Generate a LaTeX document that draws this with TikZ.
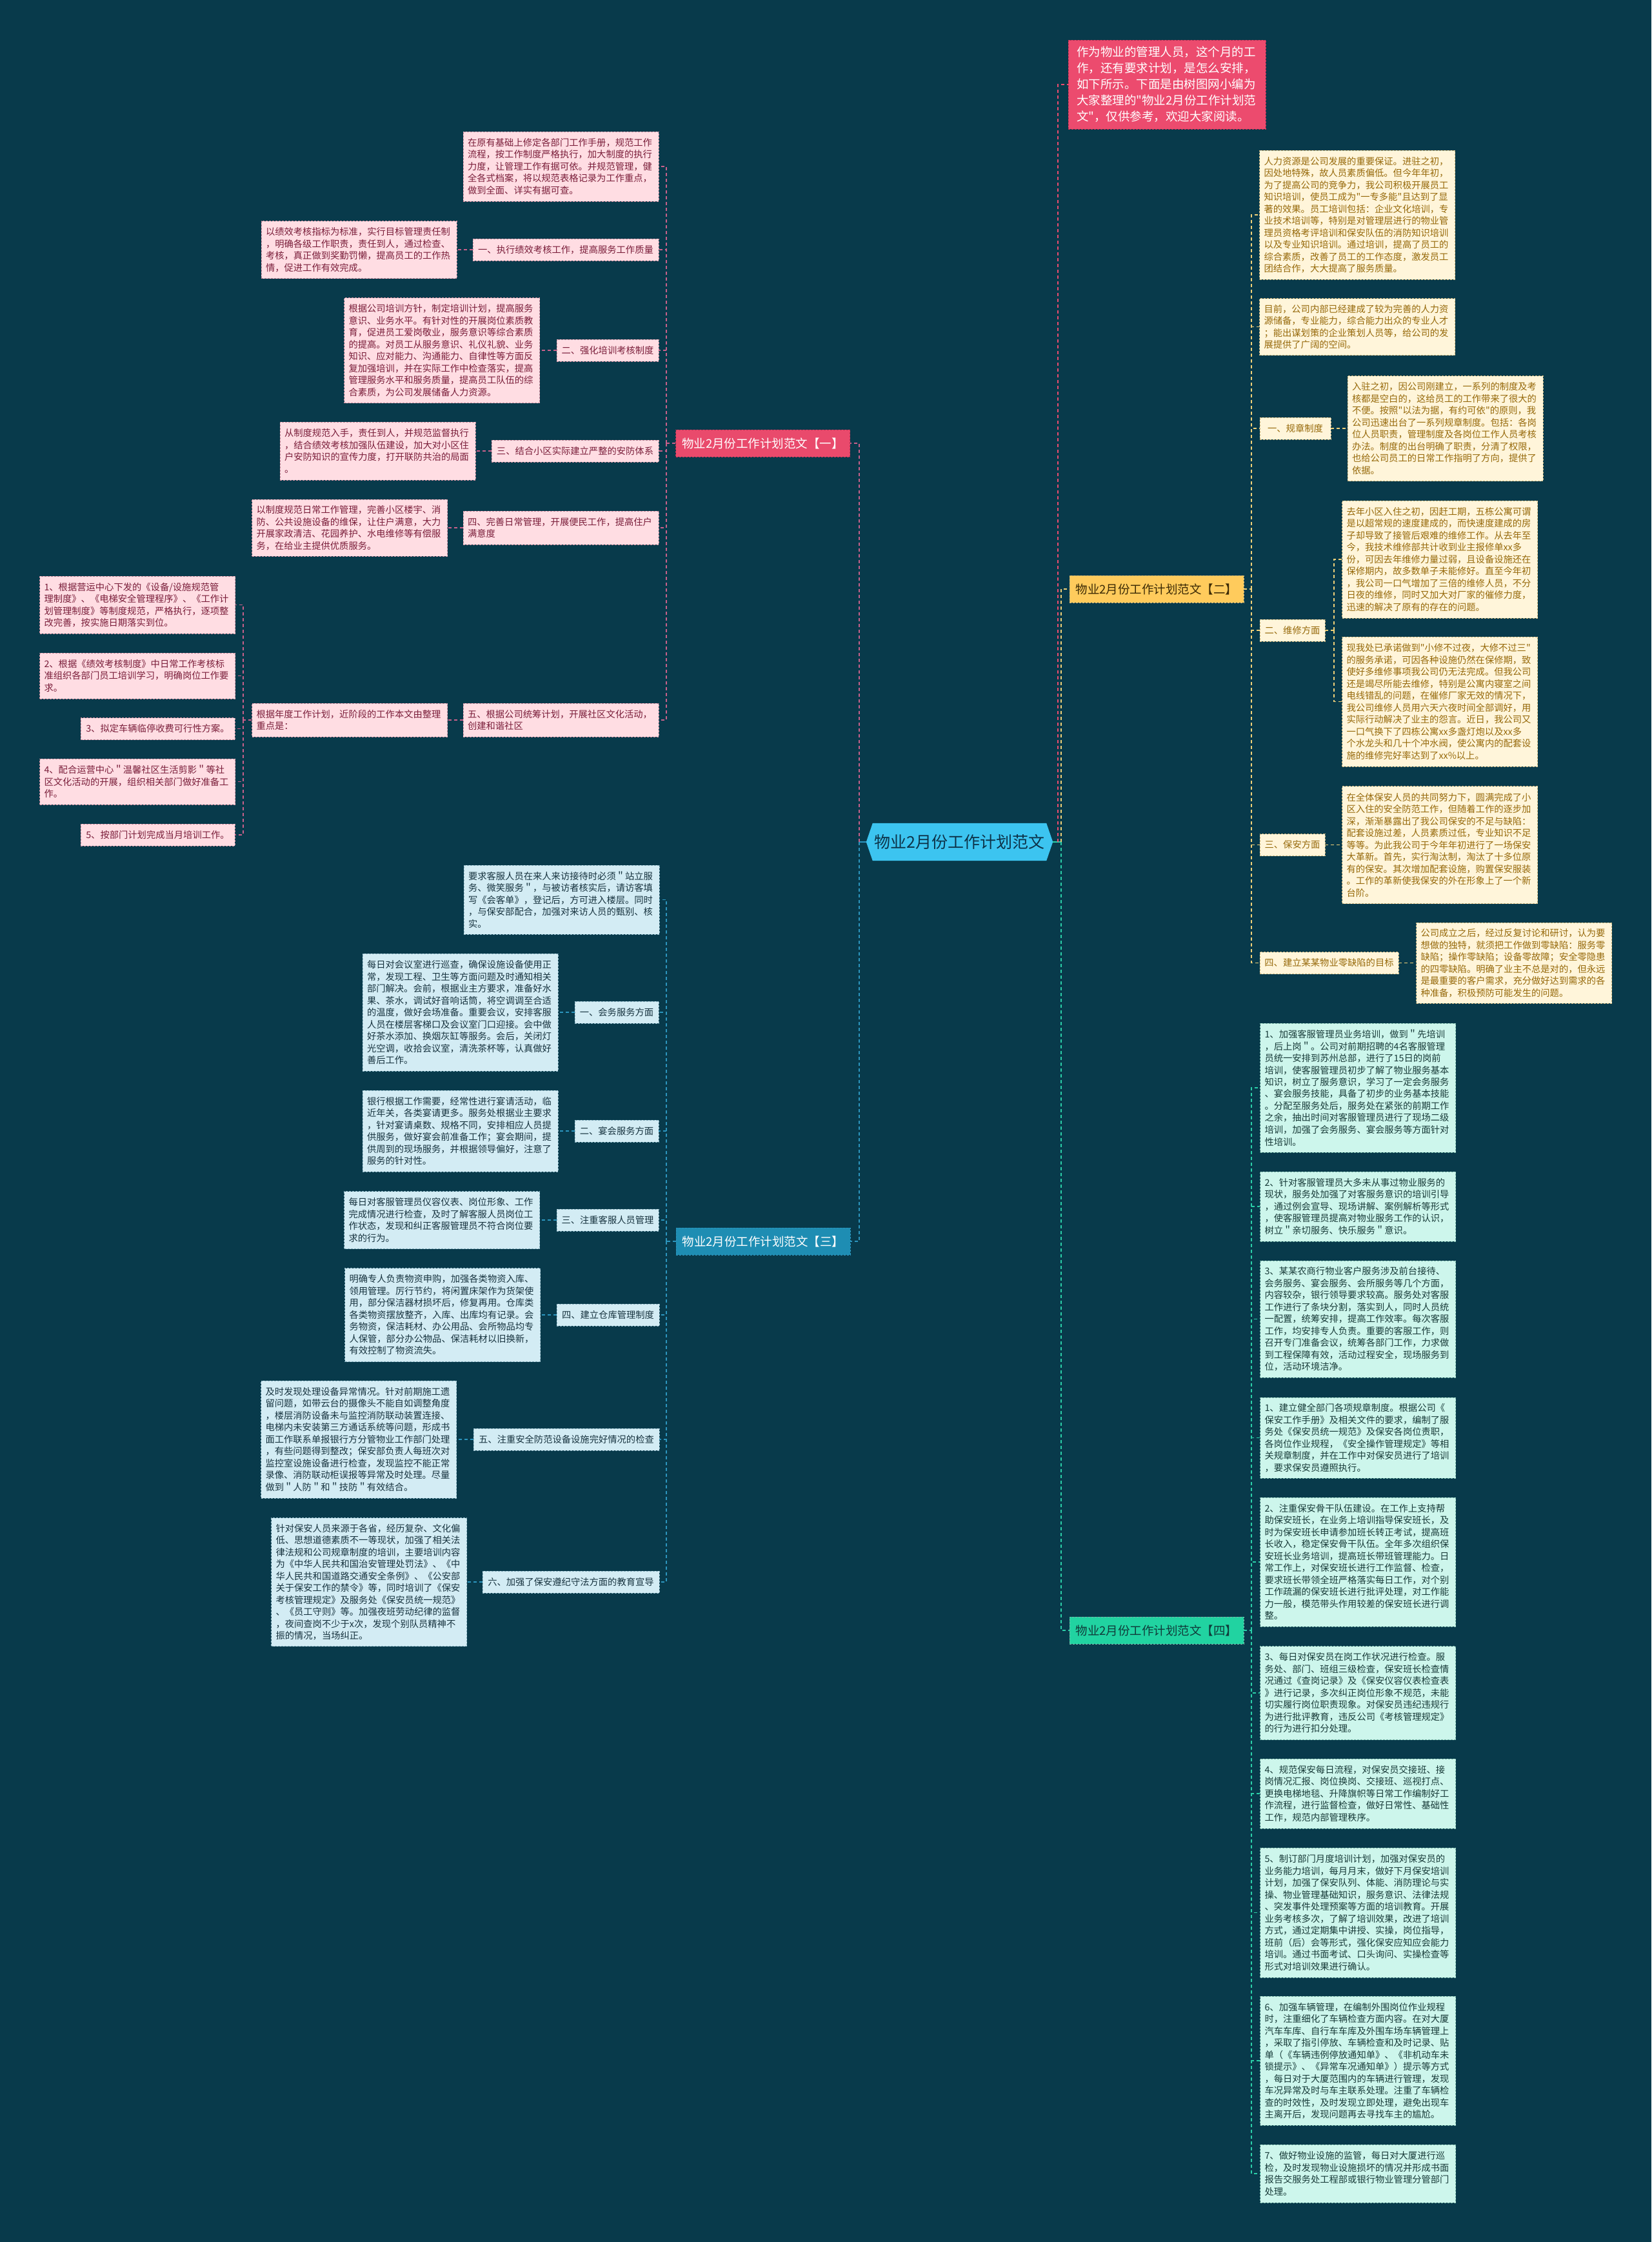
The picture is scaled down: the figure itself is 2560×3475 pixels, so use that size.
\documentclass[tikz,border=0pt]{standalone}
\usepackage{fontspec}
\newfontfamily\cjk{Noto Sans CJK SC}
\usepackage{xcolor}
\usepackage{tikz}
\usetikzlibrary{backgrounds}
\definecolor{mapbg}{HTML}{083A4B}
\definecolor{hubfill}{HTML}{3CC4F0}
\definecolor{hubtext}{HTML}{0D3349}
\definecolor{introfill}{HTML}{EC4B6E}
\definecolor{introedge}{HTML}{B83254}
\definecolor{roselabel}{HTML}{E94A6C}
\definecolor{roseleaf}{HTML}{FFDDE3}
\definecolor{rosetext}{HTML}{7A1E3A}
\definecolor{roseedge}{HTML}{C98A9C}
\definecolor{roseline}{HTML}{C8608A}
\definecolor{amberlabel}{HTML}{FFCB5C}
\definecolor{ambertitle}{HTML}{3B2A05}
\definecolor{amberleaf}{HTML}{FFF5DA}
\definecolor{ambertext}{HTML}{96690A}
\definecolor{amberedge}{HTML}{C9B27A}
\definecolor{amberline}{HTML}{EFD078}
\definecolor{bluelabel}{HTML}{1E8DB3}
\definecolor{blueleaf}{HTML}{D3ECF4}
\definecolor{bluetext}{HTML}{17333F}
\definecolor{blueedge}{HTML}{8DB5C4}
\definecolor{blueline}{HTML}{2C95BE}
\definecolor{mintlabel}{HTML}{21D3A1}
\definecolor{minttitle}{HTML}{103B3A}
\definecolor{mintleaf}{HTML}{CDF6EC}
\definecolor{minttext}{HTML}{183B39}
\definecolor{mintedge}{HTML}{7CB9AA}
\definecolor{mintline}{HTML}{2BCFA8}
\newcommand\leaffont{\cjk\fontsize{14.3pt}{18.5pt}\selectfont}
\newcommand\trunkfont{\cjk\fontsize{18.5pt}{22pt}\selectfont}
\newcommand\hubfont{\cjk\fontsize{25pt}{30pt}\selectfont}
\newcommand\introfont{\cjk\fontsize{18.5pt}{25pt}\selectfont}
\tikzset{
  leafbox/.style={rectangle, inner xsep=7pt, inner ysep=0pt, text width=289pt, align=left, font=\leaffont, line width=0.8pt, dash pattern=on 3pt off 2pt},
  tagbox/.style={rectangle, inner xsep=7pt, inner ysep=0pt, align=center, font=\leaffont, minimum height=34pt, line width=0.8pt, dash pattern=on 3pt off 2pt},
  trunkbox/.style={rectangle, inner sep=0pt, minimum width=270pt, minimum height=42pt, font=\trunkfont, line width=0.8pt, dash pattern=on 3pt off 2pt},
  hubbox/.style={rectangle, inner sep=0pt, font=\hubfont, text=hubtext},
  introbox/.style={rectangle, fill=introfill, draw=introedge, text=white, font=\introfont, inner xsep=13pt, inner ysep=0pt, text width=280pt, align=left, line width=0.8pt, dash pattern=on 3pt off 2pt},
  rosebox/.style={fill=roseleaf, draw=roseedge, text=rosetext},
  amberbox/.style={fill=amberleaf, draw=amberedge, text=ambertext},
  bluebox/.style={fill=blueleaf, draw=blueedge, text=bluetext},
  mintbox/.style={fill=mintleaf, draw=mintedge, text=minttext},
  linkline/.style={line width=1.5pt, dash pattern=on 5pt off 4pt},
}
\begin{document}
\begin{tikzpicture}[x=1pt, y=-1pt]
\useasboundingbox (0,0) rectangle (2560,3475);

\node[hubbox, minimum width=289pt, minimum height=58pt] (hub) at (1487.5,1305) {物业2月份工作计划范文};

\node[introbox, minimum height=138pt] (intro) at (1809,131) {作为物业的管理人员，这个月的工\\作，还有要求计划，是怎么安排，\\如下所示。下面是由树图网小编为\\大家整理的"物业2月份工作计划范\\文"，仅供参考，欢迎大家阅读。};

\node[trunkbox, fill=roselabel, draw=introedge, text=white] (b1) at (1182.5,687) {物业2月份工作计划范文【一】};
\node[trunkbox, fill=amberlabel, draw=amberedge, text=ambertitle] (b2) at (1793,913) {物业2月份工作计划范文【二】};
\node[trunkbox, fill=bluelabel, draw=blueline, text=white] (b3) at (1183,1924) {物业2月份工作计划范文【三】};
\node[trunkbox, fill=mintlabel, draw=mintedge, text=minttitle] (b4) at (1793,2527) {物业2月份工作计划范文【四】};

\node[leafbox, rosebox, minimum height=108pt] (b1t0) at (869.5,258) {在原有基础上修定各部门工作手册，规范工作\\流程，按工作制度严格执行，加大制度的执行\\力度，让管理工作有据可依。并规范管理，健\\全各式档案，将以规范表格记录为工作重点，\\做到全面、详实有据可查。};
\node[tagbox, rosebox, minimum width=288pt] (b1l1) at (877,387) {一、执行绩效考核工作，提高服务工作质量};
\node[leafbox, rosebox, minimum height=89pt] (b1t1) at (556.5,387) {以绩效考核指标为标准，实行目标管理责任制\\，明确各级工作职责，责任到人，通过检查、\\考核，真正做到奖勤罚懒，提高员工的工作热\\情，促进工作有效完成。};
\node[tagbox, rosebox, minimum width=158pt] (b1l2) at (942,543) {二、强化培训考核制度};
\node[leafbox, rosebox, minimum height=163pt] (b1t2) at (685,543) {根据公司培训方针，制定培训计划，提高服务\\意识、业务水平。有针对性的开展岗位素质教\\育，促进员工爱岗敬业，服务意识等综合素质\\的提高。对员工从服务意识、礼仪礼貌、业务\\知识、应对能力、沟通能力、自律性等方面反\\复加强培训，并在实际工作中检查落实，提高\\管理服务水平和服务质量，提高员工队伍的综\\合素质，为公司发展储备人力资源。};
\node[tagbox, rosebox, minimum width=259pt] (b1l3) at (891.5,699) {三、结合小区实际建立严整的安防体系};
\node[leafbox, rosebox, minimum height=90pt] (b1t3) at (585.5,699) {从制度规范入手，责任到人，并规范监督执行\\，结合绩效考核加强队伍建设，加大对小区住\\户安防知识的宣传力度，打开联防共治的局面\\。};
\node[leafbox, rosebox, minimum height=52pt] (b1l4) at (869.5,818) {四、完善日常管理，开展便民工作，提高住户\\满意度};
\node[leafbox, rosebox, minimum height=88pt] (b1t4) at (542,818) {以制度规范日常工作管理，完善小区楼宇、消\\防、公共设施设备的维保，让住户满意，大力\\开展家政清洁、花园养护、水电维修等有偿服\\务，在给业主提供优质服务。};
\node[leafbox, rosebox, minimum height=52pt] (b1l5) at (869.5,1116) {五、根据公司统筹计划，开展社区文化活动，\\创建和谐社区};
\node[leafbox, rosebox, minimum height=52pt] (b1t5) at (542,1116) {根据年度工作计划，近阶段的工作本文由整理\\重点是：};
\node[leafbox, rosebox, minimum height=89pt] (b1i1) at (213,937.5) {1、根据营运中心下发的《设备/设施规范管\\理制度》、《电梯安全管理程序》、《工作计\\划管理制度》等制度规范，严格执行，逐项整\\改完善，按实施日期落实到位。};
\node[leafbox, rosebox, minimum height=71pt] (b1i2) at (213,1047.5) {2、根据《绩效考核制度》中日常工作考核标\\准组织各部门员工培训学习，明确岗位工作要\\求。};
\node[tagbox, rosebox, minimum width=239pt] (b1i3) at (244.5,1129.5) {3、拟定车辆临停收费可行性方案。};
\node[leafbox, rosebox, minimum height=71pt] (b1i4) at (213,1211.5) {4、配合运营中心＂温馨社区生活剪影＂等社\\区文化活动的开展，组织相关部门做好准备工\\作。};
\node[tagbox, rosebox, minimum width=239pt] (b1i5) at (244.5,1294) {5、按部门计划完成当月培训工作。};

\node[leafbox, amberbox, minimum height=200pt] (b2t1) at (2104,333) {人力资源是公司发展的重要保证。进驻之初，\\因处地特殊，故人员素质偏低。但今年年初，\\为了提高公司的竞争力，我公司积极开展员工\\知识培训，使员工成为"一专多能"且达到了显\\著的效果。员工培训包括：企业文化培训，专\\业技术培训等，特别是对管理层进行的物业管\\理员资格考评培训和保安队伍的消防知识培训\\以及专业知识培训。通过培训，提高了员工的\\综合素质，改善了员工的工作态度，激发员工\\团结合作，大大提高了服务质量。};
\node[leafbox, amberbox, minimum height=88pt] (b2t2) at (2104,506.5) {目前，公司内部已经建成了较为完善的人力资\\源储备，专业能力，综合能力出众的专业人才\\；能出谋划策的企业策划人员等，给公司的发\\展提供了广阔的空间。};
\node[tagbox, amberbox, minimum width=110pt] (b2l1) at (2008,664) {一、规章制度};
\node[leafbox, amberbox, minimum height=163pt] (b2t3) at (2240.5,664) {入驻之初，因公司刚建立，一系列的制度及考\\核都是空白的，这给员工的工作带来了很大的\\不便。按照"以法为据，有约可依"的原则，我\\公司迅速出台了一系列规章制度。包括：各岗\\位人员职责，管理制度及各岗位工作人员考核\\办法。制度的出台明确了职责，分清了权限，\\也给公司员工的日常工作指明了方向，提供了\\依据。};
\node[tagbox, amberbox, minimum width=101pt] (b2l2) at (2003.5,977) {二、维修方面};
\node[leafbox, amberbox, minimum height=182pt] (b2t4) at (2232,867) {去年小区入住之初，因赶工期，五栋公寓可谓\\是以超常规的速度建成的，而快速度建成的房\\子却导致了接管后艰难的维修工作。从去年至\\今，我技术维修部共计收到业主报修单xx多\\份，可因去年维修力量过弱，且设备设施还在\\保修期内，故多数单子未能修好。直至今年初\\，我公司一口气增加了三倍的维修人员，不分\\日夜的维修，同时又加大对厂家的催修力度，\\迅速的解决了原有的存在的问题。};
\node[leafbox, amberbox, minimum height=201pt] (b2t5) at (2232,1087.5) {现我处已承诺做到"小修不过夜，大修不过三"\\的服务承诺，可因各种设施仍然在保修期，致\\使好多维修事项我公司仍无法完成。但我公司\\还是竭尽所能去维修，特别是公寓内寝室之间\\电线错乱的问题，在催修厂家无效的情况下，\\我公司维修人员用六天六夜时间全部调好，用\\实际行动解决了业主的怨言。近日，我公司又\\一口气换下了四栋公寓xx多盏灯炮以及xx多\\个水龙头和几十个冲水阀，使公寓内的配套设\\施的维修完好率达到了xx\%以上。};
\node[tagbox, amberbox, minimum width=101pt] (b2l3) at (2003.5,1309.5) {三、保安方面};
\node[leafbox, amberbox, minimum height=182pt] (b2t6) at (2232,1309.5) {在全体保安人员的共同努力下，圆满完成了小\\区入住的安全防范工作，但随着工作的逐步加\\深，渐渐暴露出了我公司保安的不足与缺陷：\\配套设施过差，人员素质过低，专业知识不足\\等等。为此我公司于今年年初进行了一场保安\\大革新。首先，实行淘汰制，淘汰了十多位原\\有的保安。其次增加配套设施，购置保安服装\\。工作的革新使我保安的外在形象上了一个新\\台阶。};
\node[tagbox, amberbox, minimum width=215pt] (b2l4) at (2060.5,1492.5) {四、建立某某物业零缺陷的目标};
\node[leafbox, amberbox, minimum height=125pt] (b2t7) at (2347,1492.5) {公司成立之后，经过反复讨论和研讨，认为要\\想做的独特，就须把工作做到零缺陷：服务零\\缺陷；操作零缺陷；设备零故障；安全零隐患\\的四零缺陷。明确了业主不总是对的，但永远\\是最重要的客户需求，充分做好达到需求的各\\种准备，积极预防可能发生的问题。};

\node[leafbox, bluebox, minimum height=107pt] (b3t0) at (870.5,1394.5) {要求客服人员在来人来访接待时必须＂站立服\\务、微笑服务＂，与被访者核实后，请访客填\\写《会客单》，登记后，方可进入楼层。同时\\，与保安部配合，加强对来访人员的甄别、核\\实。};
\node[tagbox, bluebox, minimum width=130pt] (b3l1) at (956,1569) {一、会务服务方面};
\node[leafbox, bluebox, minimum height=182pt] (b3t1) at (713.5,1569) {每日对会议室进行巡查，确保设施设备使用正\\常，发现工程、卫生等方面问题及时通知相关\\部门解决。会前，根据业主方要求，准备好水\\果、茶水，调试好音响话筒，将空调调至合适\\的温度，做好会场准备。重要会议，安排客服\\人员在楼层客梯口及会议室门口迎接。会中做\\好茶水添加、换烟灰缸等服务。会后，关闭灯\\光空调，收拾会议室，清洗茶杯等，认真做好\\善后工作。};
\node[tagbox, bluebox, minimum width=130pt] (b3l2) at (956,1753) {二、宴会服务方面};
\node[leafbox, bluebox, minimum height=126pt] (b3t2) at (713.5,1753) {银行根据工作需要，经常性进行宴请活动，临\\近年关，各类宴请更多。服务处根据业主要求\\，针对宴请桌数、规格不同，安排相应人员提\\供服务，做好宴会前准备工作；宴会期间，提\\供周到的现场服务，并根据领导偏好，注意了\\服务的针对性。};
\node[tagbox, bluebox, minimum width=158pt] (b3l3) at (942,1891) {三、注重客服人员管理};
\node[leafbox, bluebox, minimum height=89pt] (b3t3) at (685,1891) {每日对客服管理员仪容仪表、岗位形象、工作\\完成情况进行检查，及时了解客服人员岗位工\\作状态，发现和纠正客服管理员不符合岗位要\\求的行为。};
\node[tagbox, bluebox, minimum width=159pt] (b3l4) at (942.5,2038) {四、建立仓库管理制度};
\node[leafbox, bluebox, minimum height=145pt] (b3t4) at (686,2038) {明确专人负责物资申购，加强各类物资入库、\\领用管理。厉行节约，将闲置床架作为货架使\\用，部分保洁器材损坏后，修复再用。仓库类\\各类物资摆放整齐，入库、出库均有记录。会\\务物资，保洁耗材、办公用品、会所物品均专\\人保管，部分办公物品、保洁耗材以旧换新，\\有效控制了物资流失。};
\node[tagbox, bluebox, minimum width=288pt] (b3l5) at (878,2231) {五、注重安全防范设备设施完好情况的检查};
\node[leafbox, bluebox, minimum height=182pt] (b3t5) at (556,2231) {及时发现处理设备异常情况。针对前期施工遗\\留问题，如带云台的摄像头不能自如调整角度\\，楼层消防设备未与监控消防联动装置连接、\\电梯内未安装第三方通话系统等问题，形成书\\面工作联系单报银行方分管物业工作部门处理\\，有些问题得到整改；保安部负责人每班次对\\监控室设施设备进行检查，发现监控不能正常\\录像、消防联动柜误报等异常及时处理。尽量\\做到＂人防＂和＂技防＂有效结合。};
\node[tagbox, bluebox, minimum width=274pt] (b3l6) at (885,2452) {六、加强了保安遵纪守法方面的教育宣导};
\node[leafbox, bluebox, minimum height=199pt] (b3t6) at (572,2452) {针对保安人员来源于各省，经历复杂、文化偏\\低、思想道德素质不一等现状，加强了相关法\\律法规和公司规章制度的培训，主要培训内容\\为《中华人民共和国治安管理处罚法》、《中\\华人民共和国道路交通安全条例》、《公安部\\关于保安工作的禁令》等，同时培训了《保安\\考核管理规定》及服务处《保安员统一规范》\\、《员工守则》等。加强夜班劳动纪律的监督\\，夜间查岗不少于x次，发现个别队员精神不\\振的情况，当场纠正。};

\node[leafbox, mintbox, minimum height=200pt] (b4i1) at (2105,1686) {1、加强客服管理员业务培训，做到＂先培训\\，后上岗＂。公司对前期招聘的4名客服管理\\员统一安排到苏州总部，进行了15日的岗前\\培训，使客服管理员初步了解了物业服务基本\\知识，树立了服务意识，学习了一定会务服务\\、宴会服务技能，具备了初步的业务基本技能\\。分配至服务处后，服务处在紧张的前期工作\\之余，抽出时间对客服管理员进行了现场二级\\培训，加强了会务服务、宴会服务等方面针对\\性培训。};
\node[leafbox, mintbox, minimum height=108pt] (b4i2) at (2105,1870) {2、针对客服管理员大多未从事过物业服务的\\现状，服务处加强了对客服务意识的培训引导\\，通过例会宣导、现场讲解、案例解析等形式\\，使客服管理员提高对物业服务工作的认识，\\树立＂亲切服务、快乐服务＂意识。};
\node[leafbox, mintbox, minimum height=181pt] (b4i3) at (2105,2044.5) {3、某某农商行物业客户服务涉及前台接待、\\会务服务、宴会服务、会所服务等几个方面，\\内容较杂，银行领导要求较高。服务处对客服\\工作进行了条块分割，落实到人，同时人员统\\一配置，统筹安排，提高工作效率。每次客服\\工作，均安排专人负责。重要的客服工作，则\\召开专门准备会议，统筹各部门工作，力求做\\到工程保障有效，活动过程安全，现场服务到\\位，活动环境洁净。};
\node[leafbox, mintbox, minimum height=125pt] (b4i4) at (2105,2228.5) {1、建立健全部门各项规章制度。根据公司《\\保安工作手册》及相关文件的要求，编制了服\\务处《保安员统一规范》及保安各岗位责职，\\各岗位作业规程，《安全操作管理规定》等相\\关规章制度，并在工作中对保安员进行了培训\\，要求保安员遵照执行。};
\node[leafbox, mintbox, minimum height=200pt] (b4i5) at (2105,2421) {2、注重保安骨干队伍建设。在工作上支持帮\\助保安班长，在业务上培训指导保安班长，及\\时为保安班长申请参加班长转正考试，提高班\\长收入，稳定保安骨干队伍。全年多次组织保\\安班长业务培训，提高班长带班管理能力。日\\常工作上，对保安班长进行工作监督、检查，\\要求班长带领全班严格落实每日工作，对个别\\工作疏漏的保安班长进行批评处理，对工作能\\力一般，模范带头作用较差的保安班长进行调\\整。};
\node[leafbox, mintbox, minimum height=145pt] (b4i6) at (2105,2624) {3、每日对保安员在岗工作状况进行检查。服\\务处、部门、班组三级检查，保安班长检查情\\况通过《查岗记录》及《保安仪容仪表检查表\\》进行记录，多次纠正岗位形象不规范，未能\\切实履行岗位职责现象。对保安员违纪违规行\\为进行批评教育，违反公司《考核管理规定》\\的行为进行扣分处理。};
\node[leafbox, mintbox, minimum height=108pt] (b4i7) at (2105,2780) {4、规范保安每日流程，对保安员交接班、接\\岗情况汇报、岗位换岗、交接班、巡视打点、\\更换电梯地毯、升降旗帜等日常工作编制好工\\作流程，进行监督检查，做好日常性、基础性\\工作，规范内部管理秩序。};
\node[leafbox, mintbox, minimum height=201pt] (b4i8) at (2105,2964.5) {5、制订部门月度培训计划，加强对保安员的\\业务能力培训，每月月末，做好下月保安培训\\计划，加强了保安队列、体能、消防理论与实\\操、物业管理基础知识，服务意识、法律法规\\、突发事件处理预案等方面的培训教育。开展\\业务考核多次，了解了培训效果，改进了培训\\方式，通过定期集中讲授、实操，岗位指导，\\班前（后）会等形式，强化保安应知应会能力\\培训。通过书面考试、口头询问、实操检查等\\形式对培训效果进行确认。};
\node[leafbox, mintbox, minimum height=200pt] (b4i9) at (2105,3194) {6、加强车辆管理，在编制外围岗位作业规程\\时，注重细化了车辆检查方面内容。在对大厦\\汽车车库、自行车车库及外围车场车辆管理上\\，采取了指引停放、车辆检查和及时记录、贴\\单（《车辆违例停放通知单》、《非机动车未\\锁提示》、《异常车况通知单》）提示等方式\\，每日对于大厦范围内的车辆进行管理，发现\\车况异常及时与车主联系处理。注重了车辆检\\查的时效性，及时发现立即处理，避免出现车\\主离开后，发现问题再去寻找车主的尴尬。};
\node[leafbox, mintbox, minimum height=90pt] (b4i10) at (2105,3369) {7、做好物业设施的监管，每日对大厦进行巡\\检，及时发现物业设施损坏的情况并形成书面\\报告交服务处工程部或银行物业管理分管部门\\处理。};

\coordinate (hubl) at (1332,1305);
\coordinate (hubp) at (1640,1305);
\coordinate (hubr) at (1645,1305);
\draw[line width=2pt, blueline] (hub.west) -- (hubl);
\draw[line width=2pt, mintline] (hub.east) -- (hubr);
\draw[linkline, roseline] (hubl) |- (b1.east);
\draw[linkline, blueline] (hubl) |- (b3.east);
\draw[linkline, introfill] (hubp) |- (intro.west);
\draw[linkline, amberline] (hubr) |- (b2.west);
\draw[linkline, mintline] (hubr) |- (b4.west);

\coordinate (b1j) at (1033,687);
\draw[linkline, roseline] (b1.west) -- (b1j);
\draw[linkline, roseline] (b1j) |- (b1t0.east);
\draw[linkline, roseline] (b1j) |- (b1l1.east);
\draw[linkline, roseline] (b1j) |- (b1l2.east);
\draw[linkline, roseline] (b1j) |- (b1l3.east);
\draw[linkline, roseline] (b1j) |- (b1l4.east);
\draw[linkline, roseline] (b1j) |- (b1l5.east);
\draw[linkline, roseline] (b1l1.west) -- (b1t1.east);
\draw[linkline, roseline] (b1l2.west) -- (b1t2.east);
\draw[linkline, roseline] (b1l3.west) -- (b1t3.east);
\draw[linkline, roseline] (b1l4.west) -- (b1t4.east);
\draw[linkline, roseline] (b1l5.west) -- (b1t5.east);
\coordinate (b1k) at (377,1116);
\draw[linkline, roseline] (b1t5.west) -- (b1k);
\draw[linkline, roseline] (b1k) |- (b1i1.east);
\draw[linkline, roseline] (b1k) |- (b1i2.east);
\draw[linkline, roseline] (b1k) |- (b1i3.east);
\draw[linkline, roseline] (b1k) |- (b1i4.east);
\draw[linkline, roseline] (b1k) |- (b1i5.east);

\coordinate (b2j) at (1940,913);
\draw[linkline, amberline] (b2.east) -- (b2j);
\draw[linkline, amberline] (b2j) |- (b2t1.west);
\draw[linkline, amberline] (b2j) |- (b2t2.west);
\draw[linkline, amberline] (b2j) |- (b2l1.west);
\draw[linkline, amberline] (b2j) |- (b2l2.west);
\draw[linkline, amberline] (b2j) |- (b2l3.west);
\draw[linkline, amberline] (b2j) |- (b2l4.west);
\draw[linkline, amberline] (b2l1.east) -- (b2t3.west);
\coordinate (b2k) at (2068,977);
\draw[linkline, amberline] (b2l2.east) -- (b2k);
\draw[linkline, amberline] (b2k) |- (b2t4.west);
\draw[linkline, amberline] (b2k) |- (b2t5.west);
\draw[linkline, amberline] (b2l3.east) -- (b2t6.west);
\draw[linkline, amberline] (b2l4.east) -- (b2t7.west);

\coordinate (b3j) at (1033,1924);
\draw[linkline, blueline] (b3.west) -- (b3j);
\draw[linkline, blueline] (b3j) |- (b3t0.east);
\draw[linkline, blueline] (b3j) |- (b3l1.east);
\draw[linkline, blueline] (b3j) |- (b3l2.east);
\draw[linkline, blueline] (b3j) |- (b3l3.east);
\draw[linkline, blueline] (b3j) |- (b3l4.east);
\draw[linkline, blueline] (b3j) |- (b3l5.east);
\draw[linkline, blueline] (b3j) |- (b3l6.east);
\draw[linkline, blueline] (b3l1.west) -- (b3t1.east);
\draw[linkline, blueline] (b3l2.west) -- (b3t2.east);
\draw[linkline, blueline] (b3l3.west) -- (b3t3.east);
\draw[linkline, blueline] (b3l4.west) -- (b3t4.east);
\draw[linkline, blueline] (b3l5.west) -- (b3t5.east);
\draw[linkline, blueline] (b3l6.west) -- (b3t6.east);

\coordinate (b4j) at (1940,2527);
\draw[linkline, mintline] (b4.east) -- (b4j);
\draw[linkline, mintline] (b4j) |- (b4i1.west);
\draw[linkline, mintline] (b4j) |- (b4i2.west);
\draw[linkline, mintline] (b4j) |- (b4i3.west);
\draw[linkline, mintline] (b4j) |- (b4i4.west);
\draw[linkline, mintline] (b4j) |- (b4i5.west);
\draw[linkline, mintline] (b4j) |- (b4i6.west);
\draw[linkline, mintline] (b4j) |- (b4i7.west);
\draw[linkline, mintline] (b4j) |- (b4i8.west);
\draw[linkline, mintline] (b4j) |- (b4i9.west);
\draw[linkline, mintline] (b4j) |- (b4i10.west);

\begin{scope}[on background layer]
  \fill[mapbg] (0,0) rectangle (2560,3475);
  \fill[hubfill] (hub.west) -- ([xshift=10pt]hub.north west) -- ([xshift=-10pt]hub.north east) -- (hub.east) -- ([xshift=-10pt]hub.south east) -- ([xshift=10pt]hub.south west) -- cycle;
\end{scope}
\end{tikzpicture}
\end{document}
